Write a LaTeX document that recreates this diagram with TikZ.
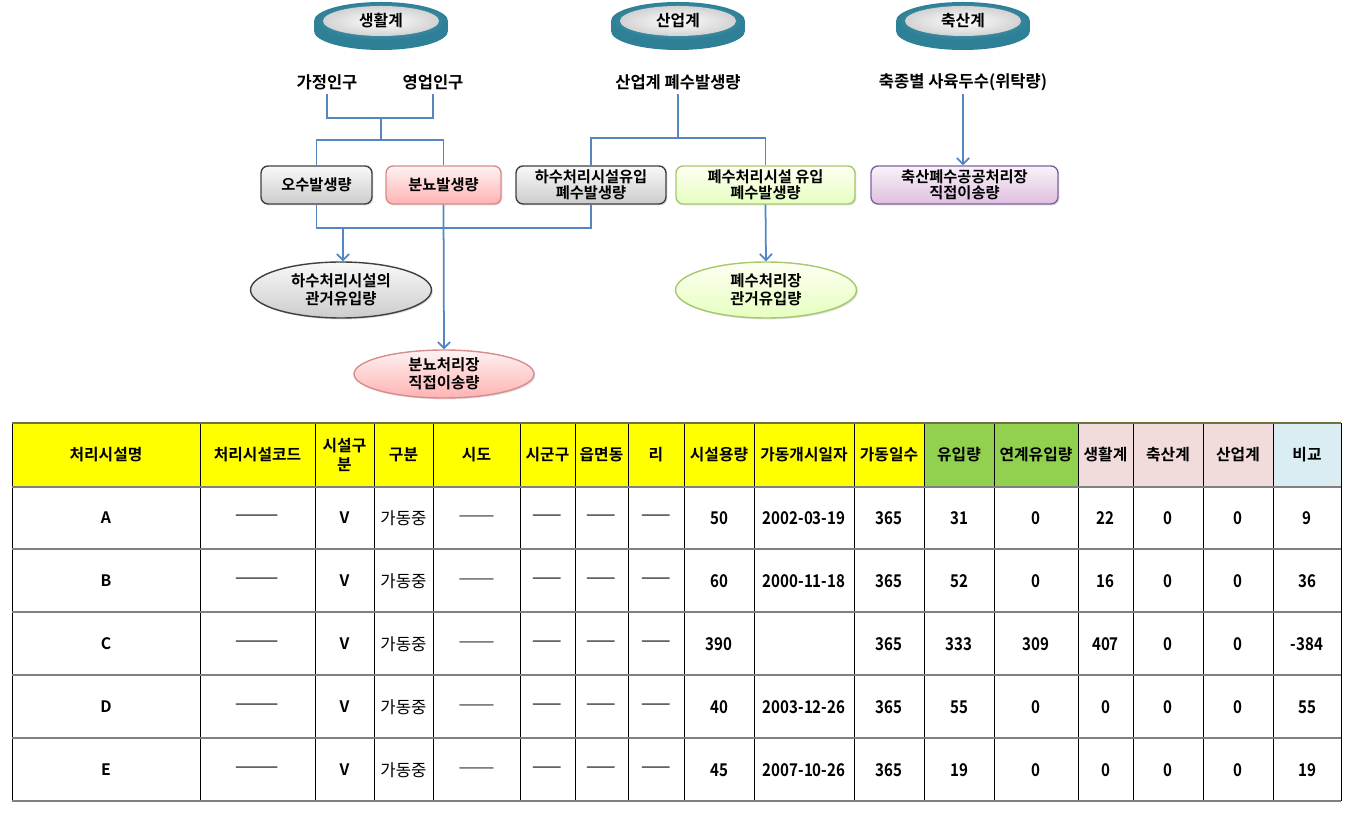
\documentclass[tikz,border=0pt]{standalone}
\usepackage{fontspec}
\newfontfamily\krfont{Noto Sans CJK KR}[BoldFont={Noto Sans CJK KR Bold}]
\newfontfamily\numfont{Noto Sans CJK KR Bold}[FakeStretch=0.86]
\usepackage{tikz}
\usetikzlibrary{arrows,arrows.meta,shapes.geometric,shadows}
\usetikzlibrary{positioning}

\definecolor{MyTeal}{rgb}{0.18,0.50,0.59}
\definecolor{MyTealLt}{rgb}{0.25,0.58,0.66}
\definecolor{MyLine}{rgb}{0.33,0.53,0.76}
\definecolor{MyGrayBd}{rgb}{0.25,0.25,0.25}
\definecolor{MyPinkBd}{rgb}{0.85,0.55,0.55}
\definecolor{MyGreenBd}{rgb}{0.65,0.79,0.42}
\definecolor{MyVioBd}{rgb}{0.50,0.39,0.64}
\definecolor{HdYellow}{rgb}{1,1,0}
\definecolor{HdGreen}{rgb}{0.57,0.82,0.31}
\definecolor{HdPink}{rgb}{0.95,0.86,0.86}
\definecolor{HdBlue}{rgb}{0.85,0.93,0.95}
\definecolor{RowGray}{rgb}{0.5,0.5,0.5}
\definecolor{TopOlive}{rgb}{0.45,0.45,0.25}

\newcommand{\boxfont}{\krfont\bfseries\fontsize{8.7}{9.3}\selectfont}
\newcommand{\cellfont}{\krfont\bfseries\fontsize{9}{10.6}\selectfont}
\newcommand{\dashfont}{\krfont\fontsize{10}{10}\selectfont}

\tikzset{
    flowbox/.style={
      rectangle,
      rounded corners=4pt,
      draw=MyGrayBd,
      thick,
      minimum height=0.76cm,
      align=center,
      inner sep=1pt,
      font=\boxfont,
      drop shadow={opacity=0.25,shadow xshift=0.8pt,shadow yshift=-0.8pt}
    },
    flowell/.style={
      ellipse,
      draw=MyGrayBd,
      thick,
      minimum width=3.62cm,
      minimum height=1.12cm,
      inner sep=0pt,
      align=center,
      font=\krfont\bfseries\fontsize{8.8}{10.2}\selectfont,
      drop shadow={opacity=0.25,shadow xshift=0.8pt,shadow yshift=-0.8pt}
    },
    graybox/.style={top color=gray!5, bottom color=gray!40, draw=MyGrayBd},
    pinkbox/.style={top color=red!5, bottom color=red!30, draw=MyPinkBd},
    greenbox/.style={top color=green!8!yellow!5, bottom color=green!40!yellow!25, draw=MyGreenBd},
    viobox/.style={top color=violet!5, bottom color=violet!25, draw=MyVioBd},
    srclabel/.style={font=\krfont\bfseries\fontsize{9.4}{11}\selectfont, inner sep=2pt},
    disclabel/.style={font=\krfont\bfseries\fontsize{9}{10}\selectfont, inner sep=0pt},
    link/.style={draw=MyLine, line width=1pt, >={Straight Barb[length=3.5pt,width=7pt,line width=1pt]}},
    hcell/.style={font=\cellfont, align=center, inner sep=0pt},
    vcell/.style={font=\numfont\fontsize{10}{11}\selectfont, inner sep=0pt},
    dcell/.style={font=\dashfont, inner sep=0pt},
    rowline/.style={draw=RowGray, line width=1.4pt},
    colline/.style={draw=black, line width=0.5pt}
}

\begin{document}
\begin{tikzpicture}[x=0.02cm,y=-0.02cm]
    \useasboundingbox (0,0) rectangle (1353,813);

    % discs on top
    \foreach \cx/\nm/\lbl in {381/saenghwal/생활계, 678/saneop/산업계, 963/chuksan/축산계} {
      \fill[MyTeal] (\cx,31) ellipse (67 and 19);
      \fill[MyTeal] (\cx-67,21) rectangle (\cx+67,31);
      \shade[inner color=MyTealLt!80!white, outer color=MyTeal] (\cx,21) ellipse (67 and 19);
      \shade[inner color=white, outer color=gray!35] (\cx,21) ellipse (58 and 15);
      \node[disclabel] at (\cx,21) (\nm) {\lbl};
    }

    \node[srclabel] at (327,82) (gajeong) {가정인구};
    \node[srclabel] at (433,82) (yeongeop) {영업인구};
    \node[srclabel] at (678,82) (saneopsrc) {산업계 폐수발생량};
    \node[srclabel] at (963,82) (chuksansrc) {축종별 사육두수(위탁량)};

    \node[flowbox,graybox,minimum width=2.22cm] at (316.5,185) (osu) {오수발생량};
    \node[flowbox,pinkbox,minimum width=2.30cm] at (443.5,185) (bunnyo) {분뇨발생량};
    \node[flowbox,graybox,minimum width=3.00cm] at (591,185) (hasu) {하수처리시설유입\\폐수발생량};
    \node[flowbox,greenbox,minimum width=3.58cm] at (765.5,185) (pyesu) {폐수처리시설 유입\\폐수발생량};
    \node[flowbox,viobox,minimum width=3.74cm] at (964.5,185) (chukbox) {축산폐수공공처리장\\직접이송량};

    \node[flowell,graybox] at (341,290) (hasuell) {하수처리시설의\\관거유입량};
    \node[flowell,greenbox] at (766,290) (pyesuell) {폐수처리장\\관거유입량};
    \node[flowell,pinkbox,minimum width=3.6cm,minimum height=0.96cm] at (444,374) (bunnyoell) {분뇨처리장\\직접이송량};

    \coordinate (jA) at (381,118);
    \coordinate (jB) at (381,140);
    \coordinate (jC) at (678,138);
    \coordinate (jD) at (343,228);

    \draw[link] (gajeong.south) |- (jA) -| (yeongeop.south);
    \draw[link] (jA) -- (jB);
    \draw[link] (osu.north) |- (jB) -| (bunnyo.north);
    \draw[link] (saneopsrc.south) -- (jC);
    \draw[link] (hasu.north) |- (jC) -| (pyesu.north);
    \draw[link,->] (chuksansrc.south) -- (chuksansrc.south |- chukbox.north);
    \draw[link] (osu.south) |- (jD) -| (hasu.south);
    \draw[link,->] (jD) -- (jD |- hasuell.north);
    \draw[link,->] (bunnyo.south) -- (bunnyoell.north);
    \draw[link,->] (pyesu.south) -- (pyesuell.north);

    % table
    \begin{scope}
      \foreach \xa/\xb/\col in {12/924/HdYellow, 924/1078/HdGreen, 1078/1273/HdPink, 1273/1341/HdBlue}
        \fill[\col] (\xa,423) rectangle (\xb,487);

      \foreach \x in {12,200,315,374,433,520,575,628,684,754,854,924,994,1078,1133,1203,1273,1341}
        \draw[colline] (\x,423) -- (\x,801);
      \foreach \y in {487,549,612,675,738,801}
        \draw[rowline] (12,\y) -- (1341,\y);
      \draw[rowline,draw=TopOlive] (12,423) -- (1341,423);

      \foreach \cx/\nm/\txt in {106/h1/처리시설명, 257.5/h2/처리시설코드, 344.5/h3/{시설구\\분}, 403.5/h4/구분,
          476.5/h5/시도, 547.5/h6/시군구, 601.5/h7/읍면동, 656/h8/리, 719/h9/시설용량, 804/h10/가동개시일자,
          889/h11/가동일수, 959/h12/유입량, 1036/h13/연계유입량, 1105.5/h14/생활계, 1168/h15/축산계,
          1238/h16/산업계, 1307/h17/비교}
        \node[hcell] at (\cx,455) (\nm) {\txt};

      \foreach \r/\y/\cap/\date/\inf/\lnk/\liv/\cmp in {A/518/50/2002-03-19/31/0/22/9,
          B/581/60/2000-11-18/52/0/16/36, C/644/390/{}/333/309/407/-384,
          D/707/40/2003-12-26/55/0/0/55, E/770/45/2007-10-26/19/0/0/19} {
        \node[hcell] at (106,\y) (\r-name) {\r};
        \node[dcell] at (257.5,\y) (\r-code) {———};
        \node[hcell] at (344.5,\y) (\r-type) {V};
        \node[dcell] at (403.5,\y) (\r-stat) {\fontsize{9.5}{10}\selectfont 가동중};
        \node[dcell] at (476.5,\y) (\r-sido) {\fontsize{8.2}{10}\selectfont ———};
        \node[dcell] at (547.5,\y) (\r-sgg) {——};
        \node[dcell] at (601.5,\y) (\r-emd) {——};
        \node[dcell] at (656,\y) (\r-ri) {——};
        \node[vcell] at (719,\y) (\r-cap) {\cap};
        \node[vcell] at (804,\y) (\r-date) {\date};
        \node[vcell] at (889,\y) (\r-days) {365};
        \node[vcell] at (959,\y) (\r-inf) {\inf};
        \node[vcell] at (1036,\y) (\r-lnk) {\lnk};
        \node[vcell] at (1105.5,\y) (\r-liv) {\liv};
        \node[vcell] at (1168,\y) (\r-chk) {0};
        \node[vcell] at (1238,\y) (\r-ind) {0};
        \node[vcell] at (1307,\y) (\r-cmp) {\cmp};
      }
    \end{scope}

\end{tikzpicture}
\end{document}
